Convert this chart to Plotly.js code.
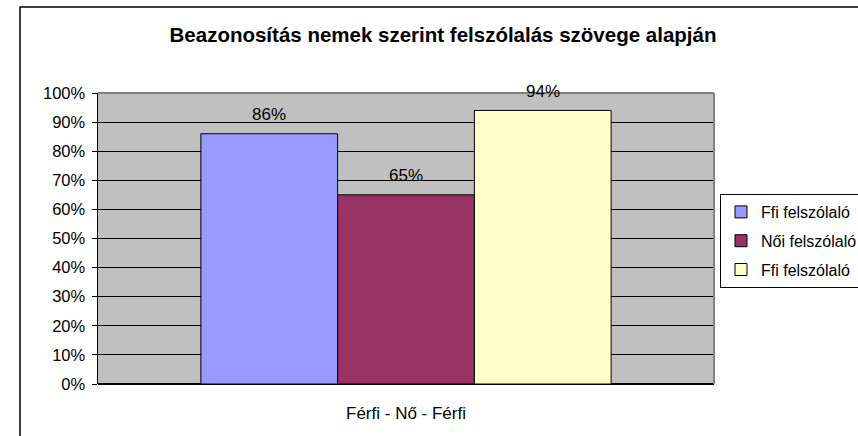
<!DOCTYPE html>
<html>
<head>
<meta charset="utf-8">
<script src="https://cdn.plot.ly/plotly-3.0.1.min.js"></script>
<style>html,body{margin:0;padding:0;background:#fff;}#chart{width:858px;height:436px;}</style>
</head>
<body>
<div id="chart"></div>
<script>
const categories = ["Férfi - Nő - Férfi"];
const seriesNames = ["Ffi felszólaló", "Női felszólaló", "Ffi felszólaló"];
const seriesValues = [[0.86], [0.65], [0.94]];
const seriesColors = ["#9999FF", "#993366", "#FFFFCC"];
const yTickVals = [0,0.1,0.2,0.3,0.4,0.5,0.6,0.7,0.8,0.9,1.0];
const yTickText = ["0%","10%","20%","30%","40%","50%","60%","70%","80%","90%","100%"];
const chartTitle = "Beazonosítás nemek szerint felszólalás szövege alapján";

const FONT = "Liberation Sans, Arial, sans-serif";
const BARGAP = 0.334;
const nSeries = seriesNames.length;
const barW = (1 - BARGAP) / nSeries;

const traces = seriesNames.map((name, i) => ({
  type: "bar",
  name: name,
  x: categories,
  y: seriesValues[i],
  legendgroup: "g" + i,
  marker: {color: seriesColors[i], line: {color: "#000", width: 1}},
  hoverinfo: "none"
}));

// value labels above each bar, positioned from the data via the axes
const annotations = [];
seriesValues.forEach((vals, i) => {
  vals.forEach((v, j) => {
    annotations.push({
      xref: "x", yref: "y",
      x: j + (i - (nSeries - 1) / 2) * barW,
      y: v,
      yshift: 19,
      yanchor: "middle",
      xanchor: "center",
      showarrow: false,
      text: Math.round(v * 100) + "%",
      font: {family: FONT, size: 17, color: "#000"}
    });
  });
});

const layout = {
  width: 858, height: 436,
  margin: {l: 98, r: 144, t: 93, b: 52, autoexpand: false},
  paper_bgcolor: "#fff",
  plot_bgcolor: "#C0C0C0",
  showlegend: true,
  barmode: "group",
  bargap: BARGAP,
  bargroupgap: 0,
  title: {
    text: "<b>" + chartTitle + "</b>",
    font: {family: FONT, size: 20.5, color: "#000"},
    xref: "container", yref: "container",
    x: 443 / 858, xanchor: "center",
    y: 1 - 35 / 436, yanchor: "middle"
  },
  xaxis: {
    type: "category",
    range: [-0.5, 0.5],
    showgrid: false,
    zeroline: false,
    showline: false,
    ticks: "",
    ticklabelstandoff: 17,
    tickfont: {family: FONT, size: 17, color: "#000"},
    fixedrange: true
  },
  yaxis: {
    range: [0, 1],
    tickvals: yTickVals,
    ticktext: yTickText,
    ticks: "outside",
    ticklen: 5,
    tickcolor: "#000",
    tickwidth: 1,
    ticklabelstandoff: 3,
    showline: true,
    linecolor: "#000",
    linewidth: 1.5,
    showgrid: true,
    gridcolor: "#000",
    gridwidth: 1,
    zeroline: true,
    zerolinecolor: "#000",
    zerolinewidth: 1.5,
    tickfont: {family: FONT, size: 16.5, color: "#000"},
    fixedrange: true
  },
  legend: {
    x: (720 - 98) / 616, xanchor: "left",
    y: (384 - 194) / 291, yanchor: "top",
    bgcolor: "#fff",
    bordercolor: "#000",
    borderwidth: 1,
    font: {family: FONT, size: 16, color: "#000"},
    traceorder: "grouped",
    tracegroupgap: 5
  },
  annotations: annotations,
  shapes: [
    {type: "rect", xref: "paper", yref: "paper",
     x0: (20 - 98) / 616, x1: (880 - 98) / 616,
     y0: (384 - 460) / 291, y1: (384 - 7) / 291,
     line: {color: "#000", width: 1.5}, fillcolor: "rgba(0,0,0,0)", layer: "below"},
    {type: "line", xref: "paper", yref: "paper", x0: 0, x1: 1, y0: 1, y1: 1,
     line: {color: "#808080", width: 2}},
    {type: "line", xref: "paper", yref: "paper", x0: 1, x1: 1, y0: 0, y1: 1,
     line: {color: "#808080", width: 2}}
  ]
};

Plotly.newPlot("chart", traces, layout, {staticPlot: true, displayModeBar: false});
</script>
</body>
</html>
